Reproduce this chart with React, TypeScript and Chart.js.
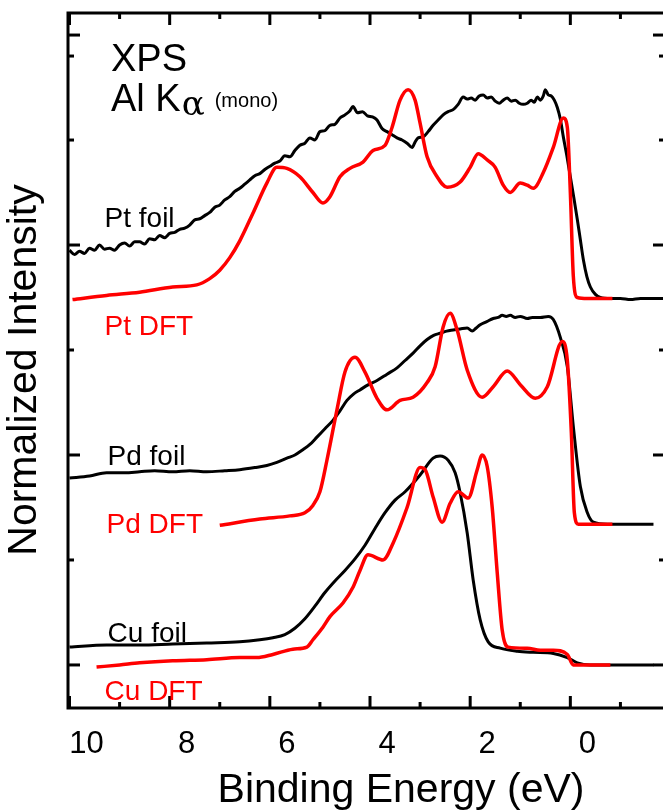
import { useEffect, useRef } from "react";
import { Chart, registerables } from "chart.js";

Chart.register(...registerables);

type P = [number, number];

// Binding energy (eV), normalized intensity (stacked, arbitrary units)
const ptFoil: P[] = [
  [10.0, 3.95], [9.9, 3.91], [9.8, 3.94], [9.7, 3.92], [9.6, 3.97], [9.5, 3.95], [9.4, 4.0], [9.3, 3.96],
  [9.2, 3.97], [9.1, 3.95], [9.0, 4.0], [8.9, 4.02], [8.8, 3.99], [8.7, 4.03], [8.6, 4.03], [8.5, 4.01],
  [8.4, 4.06], [8.3, 4.05], [8.2, 4.09], [8.1, 4.07], [8.0, 4.11], [7.9, 4.12], [7.8, 4.15], [7.7, 4.16],
  [7.6, 4.19], [7.5, 4.24], [7.4, 4.25], [7.3, 4.28], [7.2, 4.31], [7.1, 4.36], [7.0, 4.38], [6.9, 4.43],
  [6.8, 4.46], [6.7, 4.51], [6.6, 4.54], [6.5, 4.58], [6.4, 4.62], [6.3, 4.66], [6.2, 4.68], [6.1, 4.72],
  [6.0, 4.75], [5.9, 4.78], [5.8, 4.8], [5.7, 4.85], [5.6, 4.84], [5.5, 4.9], [5.4, 4.95], [5.3, 4.97],
  [5.2, 5.02], [5.1, 5.0], [5.0, 5.08], [4.9, 5.09], [4.8, 5.14], [4.7, 5.15], [4.6, 5.21], [4.5, 5.24],
  [4.4, 5.28], [4.34, 5.32], [4.25, 5.26], [4.15, 5.27], [4.05, 5.23], [3.95, 5.22], [3.86, 5.19],
  [3.76, 5.11], [3.66, 5.08], [3.56, 5.05], [3.46, 5.02], [3.36, 5.0], [3.26, 4.97], [3.16, 4.93],
  [3.1, 4.98], [3.04, 5.02], [2.94, 5.03], [2.84, 5.08], [2.74, 5.14], [2.64, 5.19], [2.54, 5.24],
  [2.44, 5.27], [2.34, 5.29], [2.24, 5.34], [2.14, 5.41], [2.06, 5.39], [1.98, 5.4], [1.9, 5.38],
  [1.82, 5.42], [1.74, 5.43], [1.66, 5.4], [1.58, 5.41], [1.5, 5.37], [1.42, 5.35], [1.34, 5.38],
  [1.26, 5.4], [1.18, 5.37], [1.1, 5.38], [1.02, 5.35], [0.94, 5.34], [0.86, 5.35], [0.78, 5.38],
  [0.72, 5.36], [0.66, 5.41], [0.6, 5.38], [0.54, 5.42], [0.5, 5.48], [0.44, 5.43], [0.38, 5.42],
  [0.32, 5.38], [0.26, 5.31], [0.2, 5.2], [0.14, 5.03], [0.07, 4.85], [0.0, 4.65], [-0.07, 4.45],
  [-0.14, 4.24], [-0.2, 4.05], [-0.26, 3.86], [-0.33, 3.7], [-0.4, 3.6], [-0.5, 3.53], [-0.6, 3.5],
  [-0.8, 3.49], [-1.0, 3.49], [-1.2, 3.48], [-1.4, 3.49], [-1.6, 3.49], [-1.95, 3.49],
];

const ptDft: P[] = [
  [9.94, 3.48], [9.26, 3.52], [8.6, 3.55], [7.94, 3.6], [7.46, 3.62], [7.2, 3.68], [7.0, 3.76],
  [6.8, 3.88], [6.6, 4.04], [6.34, 4.3], [6.06, 4.59], [5.86, 4.74], [5.66, 4.73], [5.4, 4.65],
  [5.14, 4.5], [4.94, 4.4], [4.8, 4.46], [4.6, 4.65], [4.4, 4.73], [4.14, 4.79], [3.94, 4.9],
  [3.7, 4.95], [3.56, 5.12], [3.4, 5.38], [3.24, 5.48], [3.1, 5.38], [3.0, 5.16], [2.86, 4.84],
  [2.66, 4.65], [2.46, 4.55], [2.2, 4.6], [2.0, 4.74], [1.84, 4.87], [1.66, 4.81], [1.5, 4.74],
  [1.34, 4.57], [1.2, 4.5], [1.0, 4.59], [0.86, 4.57], [0.74, 4.54], [0.54, 4.69], [0.34, 4.93],
  [0.14, 5.21], [0.06, 5.12], [0.0, 4.5], [-0.06, 3.7], [-0.14, 3.5], [-0.34, 3.49], [-0.84, 3.49],
];

const pdFoil: P[] = [
  [10.0, 1.78], [9.6, 1.8], [9.26, 1.83], [8.9, 1.83], [8.6, 1.84], [8.3, 1.85], [7.94, 1.84],
  [7.6, 1.85], [7.26, 1.84], [6.9, 1.85], [6.6, 1.86], [6.3, 1.88], [6.06, 1.9], [5.86, 1.93],
  [5.66, 1.97], [5.5, 2.0], [5.34, 2.05], [5.2, 2.1], [5.06, 2.17], [4.9, 2.25], [4.74, 2.33],
  [4.6, 2.42], [4.46, 2.52], [4.33, 2.58], [4.2, 2.62], [4.03, 2.67], [3.86, 2.71], [3.66, 2.77],
  [3.46, 2.83], [3.3, 2.9], [3.14, 2.97], [3.0, 3.04], [2.86, 3.1], [2.73, 3.14], [2.6, 3.16],
  [2.47, 3.18], [2.34, 3.19], [2.2, 3.2], [2.06, 3.21], [1.96, 3.18], [1.88, 3.21], [1.8, 3.24],
  [1.67, 3.27], [1.54, 3.3], [1.44, 3.31], [1.36, 3.33], [1.28, 3.32], [1.2, 3.33], [1.1, 3.31],
  [1.0, 3.32], [0.86, 3.3], [0.76, 3.31], [0.6, 3.31], [0.44, 3.32], [0.34, 3.29], [0.2, 3.12],
  [0.06, 2.84], [-0.06, 2.27], [-0.2, 1.7], [-0.34, 1.45], [-0.46, 1.36], [-0.74, 1.34], [-1.66, 1.34],
];

const pdDft: P[] = [
  [7.0, 1.33], [6.2, 1.39], [5.6, 1.42], [5.3, 1.45], [5.14, 1.52], [5.0, 1.65], [4.86, 1.95],
  [4.66, 2.43], [4.5, 2.79], [4.3, 2.93], [4.1, 2.79], [3.86, 2.54], [3.66, 2.43], [3.4, 2.52],
  [3.14, 2.55], [2.86, 2.69], [2.7, 2.84], [2.54, 3.22], [2.4, 3.35], [2.26, 3.19], [2.06, 2.81],
  [1.76, 2.55], [1.54, 2.65], [1.26, 2.8], [1.0, 2.67], [0.7, 2.54], [0.46, 2.65], [0.16, 3.08],
  [0.06, 2.9], [-0.02, 2.21], [-0.08, 1.45], [-0.16, 1.34], [-0.84, 1.34],
];

const cuFoil: P[] = [
  [10.0, 0.17], [9.26, 0.19], [8.6, 0.19], [7.94, 0.2], [7.26, 0.21], [6.6, 0.22], [6.2, 0.24],
  [5.94, 0.26], [5.7, 0.29], [5.5, 0.35], [5.3, 0.44], [5.1, 0.56], [4.9, 0.69], [4.7, 0.8],
  [4.5, 0.9], [4.3, 1.01], [4.1, 1.14], [3.9, 1.3], [3.7, 1.45], [3.5, 1.57], [3.3, 1.65],
  [3.0, 1.81], [2.74, 1.97], [2.6, 1.99], [2.44, 1.95], [2.3, 1.83], [2.2, 1.64], [2.06, 1.26],
  [1.94, 0.81], [1.8, 0.43], [1.64, 0.22], [1.4, 0.16], [1.06, 0.13], [0.74, 0.12], [0.34, 0.11],
  [0.06, 0.07], [-0.14, 0.02], [-0.4, 0.0], [-1.66, 0.0],
];

const cuDft: P[] = [
  [9.46, -0.02], [9.0, 0.0], [8.6, 0.02], [7.94, 0.04], [7.26, 0.05], [6.6, 0.07], [6.26, 0.07],
  [5.94, 0.1], [5.54, 0.15], [5.26, 0.17], [5.14, 0.24], [4.94, 0.36], [4.8, 0.46], [4.54, 0.59],
  [4.34, 0.74], [4.2, 0.9], [4.04, 1.05], [3.74, 1.0], [3.54, 1.16], [3.26, 1.5], [3.0, 1.88],
  [2.9, 1.86], [2.74, 1.6], [2.56, 1.36], [2.4, 1.54], [2.24, 1.65], [2.04, 1.59], [1.86, 1.86],
  [1.76, 2.0], [1.66, 1.89], [1.56, 1.5], [1.46, 0.88], [1.36, 0.33], [1.24, 0.17], [0.86, 0.16],
  [0.6, 0.14], [0.34, 0.14], [0.06, 0.1], [-0.06, 0.0], [-0.8, 0.0],
];

const xLabelValues = [10, 8, 6, 4, 2, 0];
const xMajorTicks = [10, 8, 6, 4, 2, 0];
const xMinorTicks = [9, 7, 5, 3, 1, -1];
const yMajorTicks = [0, 2, 4, 6];
const yMinorTicks = [1, 3, 5, 5.8];

const X_MIN = -1.89;
const X_MAX = 10.03;
const Y_MIN = -0.41;
const Y_MAX = 6.21;

const RED = "#ff0000";
const BLACK = "#000000";
const FONT = '"Liberation Sans", Arial, Helvetica, sans-serif';

// Curve captions, anchored in data space (left edge, baseline)
const captions: { text: string; color: string; e: number; i: number }[] = [
  { text: "Pt foil", color: BLACK, e: 9.3, i: 4.17 },
  { text: "Pt DFT", color: RED, e: 9.3, i: 3.14 },
  { text: "Pd foil", color: BLACK, e: 9.24, i: 1.9 },
  { text: "Pd DFT", color: RED, e: 9.26, i: 1.26 },
  { text: "Cu foil", color: BLACK, e: 9.24, i: 0.22 },
  { text: "Cu DFT", color: RED, e: 9.3, i: -0.33 },
];

const toXY = (d: P[]) => d.map(([x, y]) => ({ x, y }));

export default function App() {
  const ref = useRef<HTMLCanvasElement>(null);

  useEffect(() => {
    const canvas = ref.current;
    if (!canvas) return;

    const decor = {
      id: "frameAndText",
      afterDraw(chart: any) {
        const { ctx, chartArea: a } = chart;
        const xs = chart.scales.x;
        const ys = chart.scales.y;
        ctx.save();

        // frame
        ctx.strokeStyle = BLACK;
        ctx.lineWidth = 3;
        ctx.lineJoin = "miter";
        ctx.strokeRect(a.left, a.top, a.right - a.left, a.bottom - a.top);

        const seg = (x1: number, y1: number, x2: number, y2: number) => {
          ctx.beginPath();
          ctx.moveTo(x1, y1);
          ctx.lineTo(x2, y2);
          ctx.stroke();
        };
        // inward ticks on all four sides
        const xTick = (v: number, len: number) => {
          const px = xs.getPixelForValue(v);
          seg(px, a.bottom, px, a.bottom - len);
          seg(px, a.top, px, a.top + len);
        };
        const yTick = (v: number, len: number) => {
          const py = ys.getPixelForValue(v);
          seg(a.left, py, a.left + len, py);
          seg(a.right, py, a.right - len, py);
        };
        xMajorTicks.forEach((v) => xTick(v, 12));
        xMinorTicks.forEach((v) => xTick(v, 6));
        yMajorTicks.forEach((v) => yTick(v, 12));
        yMinorTicks.forEach((v) => yTick(v, 6));

        // curve captions
        ctx.textBaseline = "alphabetic";
        ctx.textAlign = "left";
        ctx.font = `28px ${FONT}`;
        captions.forEach((c) => {
          ctx.fillStyle = c.color;
          ctx.fillText(c.text, xs.getPixelForValue(c.e), ys.getPixelForValue(c.i));
        });

        // technique annotation
        ctx.fillStyle = BLACK;
        ctx.font = `38px ${FONT}`;
        const ax = a.left + 43;
        ctx.fillText("XPS", ax, a.top + 58);
        ctx.fillText("Al K", ax, a.top + 98);
        const kw = ctx.measureText("Al K").width;
        ctx.font = `34px "DejaVu Serif", serif`;
        ctx.fillText("\u03b1", ax + kw + 1, a.top + 102);
        ctx.font = `20px ${FONT}`;
        ctx.fillText("(mono)", ax + kw + 34, a.top + 94);

        // axis titles
        ctx.font = `41px ${FONT}`;
        ctx.textAlign = "center";
        ctx.fillText("Binding Energy (eV)", 401, 802);
        ctx.save();
        ctx.translate(36, 370);
        ctx.rotate(-Math.PI / 2);
        ctx.fillText("Normalized Intensity", 0, 0);
        ctx.restore();

        ctx.restore();
      },
    };

    const line = (data: P[], color: string, width: number, order: number) => ({
      data: toXY(data),
      borderColor: color,
      borderWidth: width,
      pointRadius: 0,
      fill: false,
      cubicInterpolationMode: "monotone" as const,
      order,
    });

    const chart = new Chart(canvas, {
      type: "line",
      data: {
        datasets: [
          line(ptDft, RED, 3.5, 0),
          line(pdDft, RED, 3.5, 0),
          line(cuDft, RED, 3.5, 0),
          line(ptFoil, BLACK, 3, 1),
          line(pdFoil, BLACK, 3, 1),
          line(cuFoil, BLACK, 3, 1),
        ],
      },
      options: {
        animation: false,
        responsive: false,
        devicePixelRatio: 1,
        layout: { padding: { left: 68, top: 13, right: 15, bottom: 0 } },
        plugins: { legend: { display: false }, tooltip: { enabled: false } },
        scales: {
          x: {
            type: "linear",
            reverse: true,
            min: X_MIN,
            max: X_MAX,
            grid: { display: false, drawTicks: false },
            border: { display: false },
            afterBuildTicks: (s: any) => {
              s.ticks = xLabelValues.map((value) => ({ value }));
            },
            afterFit: (s: any) => {
              s.height = 104;
            },
            ticks: {
              autoSkip: false,
              maxRotation: 0,
              padding: 18,
              labelOffset: 17,
              color: BLACK,
              font: { family: FONT, size: 31 },
              callback: (v: any) => String(v),
            },
          },
          y: {
            type: "linear",
            display: false,
            min: Y_MIN,
            max: Y_MAX,
          },
        },
      },
      plugins: [decor],
    });

    return () => chart.destroy();
  }, []);

  return (
    <div
      style={{
        position: "fixed",
        left: 0,
        top: 0,
        width: 663,
        height: 812,
        overflow: "hidden",
        background: "#fff",
      }}
    >
      <canvas ref={ref} width={680} height={812} style={{ display: "block", width: 680, height: 812 }} />
    </div>
  );
}
